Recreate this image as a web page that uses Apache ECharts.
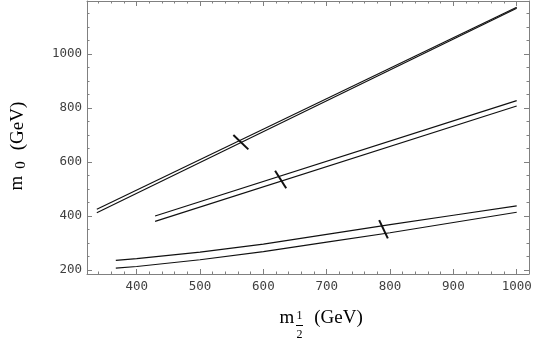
<!DOCTYPE html>
<html>
<head>
<meta charset="utf-8">
<script src="https://cdn.jsdelivr.net/npm/echarts@6/dist/echarts.min.js"></script>
<style>html,body{margin:0;padding:0;background:#fff}#c{width:545px;height:349px}</style>
</head>
<body>
<div id="c"></div>
<script>
// ---- data (m_1/2 in GeV, m_0 in GeV) ----
const pair1Upper = [[337, 425], [1000, 1174]];
const pair1Lower = [[337, 412], [1000, 1170]];
const pair2Upper = [[429, 400], [1000, 828]];
const pair2Lower = [[429, 380], [1000, 808]];
const pair3Upper = [[367, 236], [400, 242], [500, 266], [600, 296], [700, 332], [800, 368], [900, 403], [1000, 438]];
const pair3Lower = [[367, 207], [400, 213], [500, 238], [600, 268], [700, 303], [800, 338], [900, 376], [1000, 414]];
const mark1 = [[552.6, 700], [576.3, 647]];
const mark2 = [[618.5, 568], [636, 503]];
const mark3 = [[782.8, 385], [796.5, 317]];
const xRange = [321.5, 1019.4];
const yRange = [185.2, 1197];
const xTitle = ['m', '1', '2', '(GeV)'];
const yTitle = ['m', '0', '(GeV)'];

const frameColor = '#808080';
const labelFont = 'DejaVu Sans Mono';

function xAx(pos, major, labels) {
  return {
    type: 'value', position: pos, min: xRange[0], max: xRange[1],
    splitNumber: major ? 7 : 35,
    axisLine: { show: major, lineStyle: { color: frameColor, width: 1 } },
    axisTick: { show: true, inside: true, length: major ? 5 : 2.5, lineStyle: { color: frameColor, width: 1 } },
    axisLabel: {
      show: labels, margin: 6, color: '#404040', fontFamily: labelFont, fontSize: 12.5,
      formatter: v => (Math.abs(v % 100) < 1e-6 ? String(v) : '')
    },
    splitLine: { show: false }
  };
}
function yAx(pos, major, labels) {
  return {
    type: 'value', position: pos, min: yRange[0], max: yRange[1],
    splitNumber: major ? 5 : 20,
    axisLine: { show: major, lineStyle: { color: frameColor, width: 1 } },
    axisTick: { show: true, inside: true, length: major ? 5 : 2.5, lineStyle: { color: frameColor, width: 1 } },
    axisLabel: {
      show: labels, margin: 5, color: '#404040', fontFamily: labelFont, fontSize: 12.5,
      formatter: v => (Math.abs(v % 200) < 1e-6 ? String(v) : '')
    },
    splitLine: { show: false }
  };
}

function lineSeries(data, w) {
  return {
    type: 'line', data: data, xAxisIndex: 0, yAxisIndex: 0,
    symbol: 'none', smooth: false, silent: true, animation: false,
    lineStyle: { color: '#111', width: w }
  };
}

const chart = echarts.init(document.getElementById('c'), null, { renderer: 'canvas' });
chart.setOption({
  animation: false,
  backgroundColor: '#fff',
  grid: { left: 87, right: 16, top: 1, bottom: 75, containLabel: false, outerBoundsMode: 'none' },
  xAxis: [xAx('bottom', true, true), xAx('bottom', false, false), xAx('top', true, false), xAx('top', false, false)],
  yAxis: [yAx('left', true, true), yAx('left', false, false), yAx('right', true, false), yAx('right', false, false)],
  series: [
    lineSeries(pair1Upper, 1.2), lineSeries(pair1Lower, 1.2),
    lineSeries(pair2Upper, 1.2), lineSeries(pair2Lower, 1.2),
    lineSeries(pair3Upper, 1.2), lineSeries(pair3Lower, 1.2),
    lineSeries(mark1, 2), lineSeries(mark2, 2), lineSeries(mark3, 2)
  ],
  graphic: [
    // x axis title: m_{1/2} (GeV)
    { type: 'text', x: 287, y: 318, style: { text: xTitle[0], font: '19px "Liberation Serif"', fill: '#000', align: 'center', verticalAlign: 'middle' } },
    { type: 'text', x: 299.5, y: 316, style: { text: xTitle[1], font: '12px "Liberation Serif"', fill: '#000', align: 'center', verticalAlign: 'middle' } },
    { type: 'line', shape: { x1: 296, y1: 325.5, x2: 303, y2: 325.5 }, style: { stroke: '#000', lineWidth: 1 } },
    { type: 'text', x: 299.5, y: 335, style: { text: xTitle[2], font: '12px "Liberation Serif"', fill: '#000', align: 'center', verticalAlign: 'middle' } },
    { type: 'text', x: 338.5, y: 318, style: { text: xTitle[3], font: '19px "Liberation Serif"', fill: '#000', align: 'center', verticalAlign: 'middle' } },
    // y axis title: m_0 (GeV)
    { type: 'text', x: 17, y: 183, rotation: Math.PI / 2, style: { text: yTitle[0], font: '19px "Liberation Serif"', fill: '#000', align: 'center', verticalAlign: 'middle' } },
    { type: 'text', x: 21, y: 165, rotation: Math.PI / 2, style: { text: yTitle[1], font: '15px "Liberation Serif"', fill: '#000', align: 'center', verticalAlign: 'middle' } },
    { type: 'text', x: 18, y: 126, rotation: Math.PI / 2, style: { text: yTitle[2], font: '19px "Liberation Serif"', fill: '#000', align: 'center', verticalAlign: 'middle' } }
  ]
});
</script>
</body>
</html>
